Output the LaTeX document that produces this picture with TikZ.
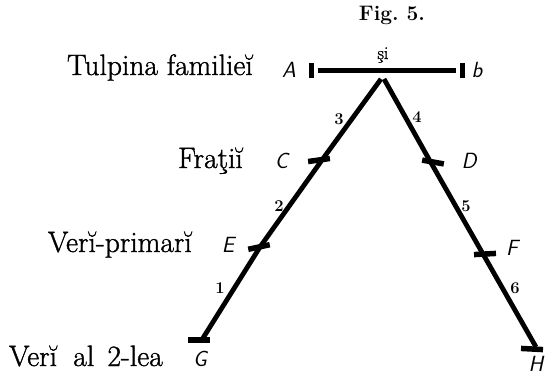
\documentclass[tikz,border=0pt]{standalone}
\usepackage{fontspec}
\newfontfamily\heavyrm{Latin Modern Roman}[FakeBold=1.2]
\begin{document}
\begin{tikzpicture}[x=1pt,y=-1pt,
  leg/.style={line width=4.8pt},
  bar/.style={line width=5pt, shorten <=3.5pt, shorten >=3.5pt},
  tickh/.style={fill=black, inner sep=0pt, minimum width=22pt, minimum height=5.5pt},
  tickv/.style={fill=black, inner sep=0pt, minimum width=5pt, minimum height=15pt},
  lab/.style={font=\heavyrm\fontsize{29.5}{33}\selectfont, anchor=base east, inner sep=0pt},
  ltr/.style={font=\fontsize{22}{26}\selectfont\sffamily\itshape, anchor=base, inner sep=0pt},
  num/.style={font=\bfseries\fontsize{16.5}{19}\selectfont, inner sep=0pt}]
\useasboundingbox (0,0) rectangle (545,375);
% title
\node[font=\bfseries\fontsize{21}{25}\selectfont, inner sep=0pt] (fig) at (392,15) {Fig.\ 5.};
% top bar
\node[tickv] (At) at (311.5,70.5) {};
\node[tickv] (bt) at (462.5,70.5) {};
\draw[bar] (At) -- (bt);
\node[font=\heavyrm\fontsize{18}{20}\selectfont, inner sep=0pt] (si) at (383,55) {şi};
\node[ltr] (A) at (289,77) {A};
\node[ltr] (b) at (477,77) {b};
\node[lab] (tulp) at (253,75) {Tulpina familieĭ};
% apex and legs
\coordinate (topl) at (381,79);
\coordinate (topr) at (384,79);
\coordinate (c1) at (322,160);
\coordinate (e1) at (260,247);
\coordinate (g1) at (203,338);
\coordinate (d1) at (430,161);
\coordinate (f1) at (483,254);
\coordinate (h1) at (536,347);
\draw[leg] (topl) -- (c1) -- (e1) -- (g1);
\draw[leg] (topr) -- (d1) -- (f1) -- (h1);
% ticks
\node[tickh, rotate=8] (Ct) at (319,160) {};
\node[tickh, rotate=12] (Et) at (259,247) {};
\node[tickh] (Gt) at (199,340) {};
\node[tickh, rotate=-10] (Dt) at (433,162) {};
\node[tickh, rotate=3] (Ft) at (485,254) {};
\node[tickh, rotate=-3] (Ht) at (532,349) {};
% letters
\node[ltr] (C) at (281.5,168) {C};
\node[ltr] (D) at (469,168) {D};
\node[ltr] (E) at (228,252) {E};
\node[ltr] (F) at (512,255) {F};
\node[ltr] (G) at (200,366) {G};
\node[ltr] (H) at (536,371) {H};
% row labels
\node[lab] (frati) at (243,168) {Fraţiĭ};
\node[lab] (veri) at (192,252) {Verĭ-primarĭ};
\node[lab] (veri2) at (163,366) {Verĭ\hspace{0.55em}al\hspace{0.45em}2-lea};
% numbers
\node[num] (n3) at (339,119) {3};
\node[num] (n4) at (417,117) {4};
\node[num] (n2) at (279,206) {2};
\node[num] (n5) at (466,206) {5};
\node[num] (n1) at (220,288) {1};
\node[num] (n6) at (515,288) {6};
\end{tikzpicture}
\end{document}
